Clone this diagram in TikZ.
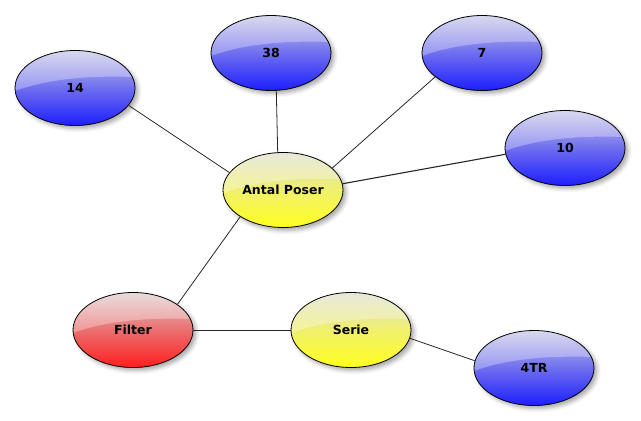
\documentclass[tikz,border=0pt]{standalone}
\usepackage{fontspec}
\setmainfont{DejaVu Sans}
\usetikzlibrary{shapes.geometric,shadows.blur}

\definecolor{bBot}{RGB}{30,30,255}
\definecolor{bMid}{RGB}{110,110,240}
\definecolor{bTop}{RGB}{200,200,232}
\definecolor{yBot}{RGB}{255,255,30}
\definecolor{yMid}{RGB}{240,240,110}
\definecolor{yTop}{RGB}{222,222,205}
\definecolor{rBot}{RGB}{255,30,30}
\definecolor{rMid}{RGB}{235,110,110}
\definecolor{rTop}{RGB}{225,205,205}

\pgfdeclareverticalshading{glassblue}{100bp}{color(0bp)=(bBot); color(25bp)=(bBot); color(50bp)=(bMid); color(75bp)=(bTop); color(100bp)=(bTop)}
\pgfdeclareverticalshading{glassyellow}{100bp}{color(0bp)=(yBot); color(25bp)=(yBot); color(50bp)=(yMid); color(75bp)=(yTop); color(100bp)=(yTop)}
\pgfdeclareverticalshading{glassred}{100bp}{color(0bp)=(rBot); color(25bp)=(rBot); color(50bp)=(rMid); color(75bp)=(rTop); color(100bp)=(rTop)}

\tikzset{
  bubble/.style={ellipse, draw=black, line width=0.8pt,
    minimum width=120pt, minimum height=75pt, inner sep=0pt,
    font=\bfseries\fontsize{12.5}{14}\selectfont,
    blur shadow={shadow xshift=3pt, shadow yshift=-3pt, shadow blur radius=4pt, shadow opacity=35},
    path picture={
      \fill[white, fill opacity=0.3]
        ([yshift=-3pt]path picture bounding box.west)
        .. controls ([xshift=-20pt,yshift=12pt]path picture bounding box.center)
        and ([xshift=30pt,yshift=12pt]path picture bounding box.center) ..
        ([yshift=11pt]path picture bounding box.east)
        -- (path picture bounding box.north east)
        -- (path picture bounding box.north west) -- cycle;
    }},
  bluebub/.style={bubble, shading=glassblue},
  yellowbub/.style={bubble, shading=glassyellow},
  redbub/.style={bubble, shading=glassred},
  link/.style={draw=black!85, line width=0.8pt}
}

\begin{document}
\begin{tikzpicture}[x=1pt, y=-1pt]
\useasboundingbox (0,0) rectangle (641,421);

\node[bluebub]   (n14)   at (75,88)   {14};
\node[bluebub]   (n38)   at (271,53)  {38};
\node[bluebub]   (n7)    at (482,53)  {7};
\node[bluebub]   (n10)   at (565,148) {10};
\node[yellowbub] (antal) at (283,190) {Antal Poser};
\node[redbub]    (filter) at (133,330) {Filter};
\node[yellowbub] (serie) at (351,330) {Serie};
\node[bluebub]   (n4tr)  at (534,368) {4TR};

\path[link] (n14.-18) -- (antal.162);
\path[link] (n38.-82) -- (antal.98);
\path[link] (n7.-153) -- (antal.24);
\path[link, line width=1.1pt] (n10.186) -- (antal.6);
\path[link] (antal.-148) -- (filter.30);
\path[link] (filter.east) -- (serie.west);
\path[link] (serie.-8.5) -- (n4tr.173);
\end{tikzpicture}
\end{document}
